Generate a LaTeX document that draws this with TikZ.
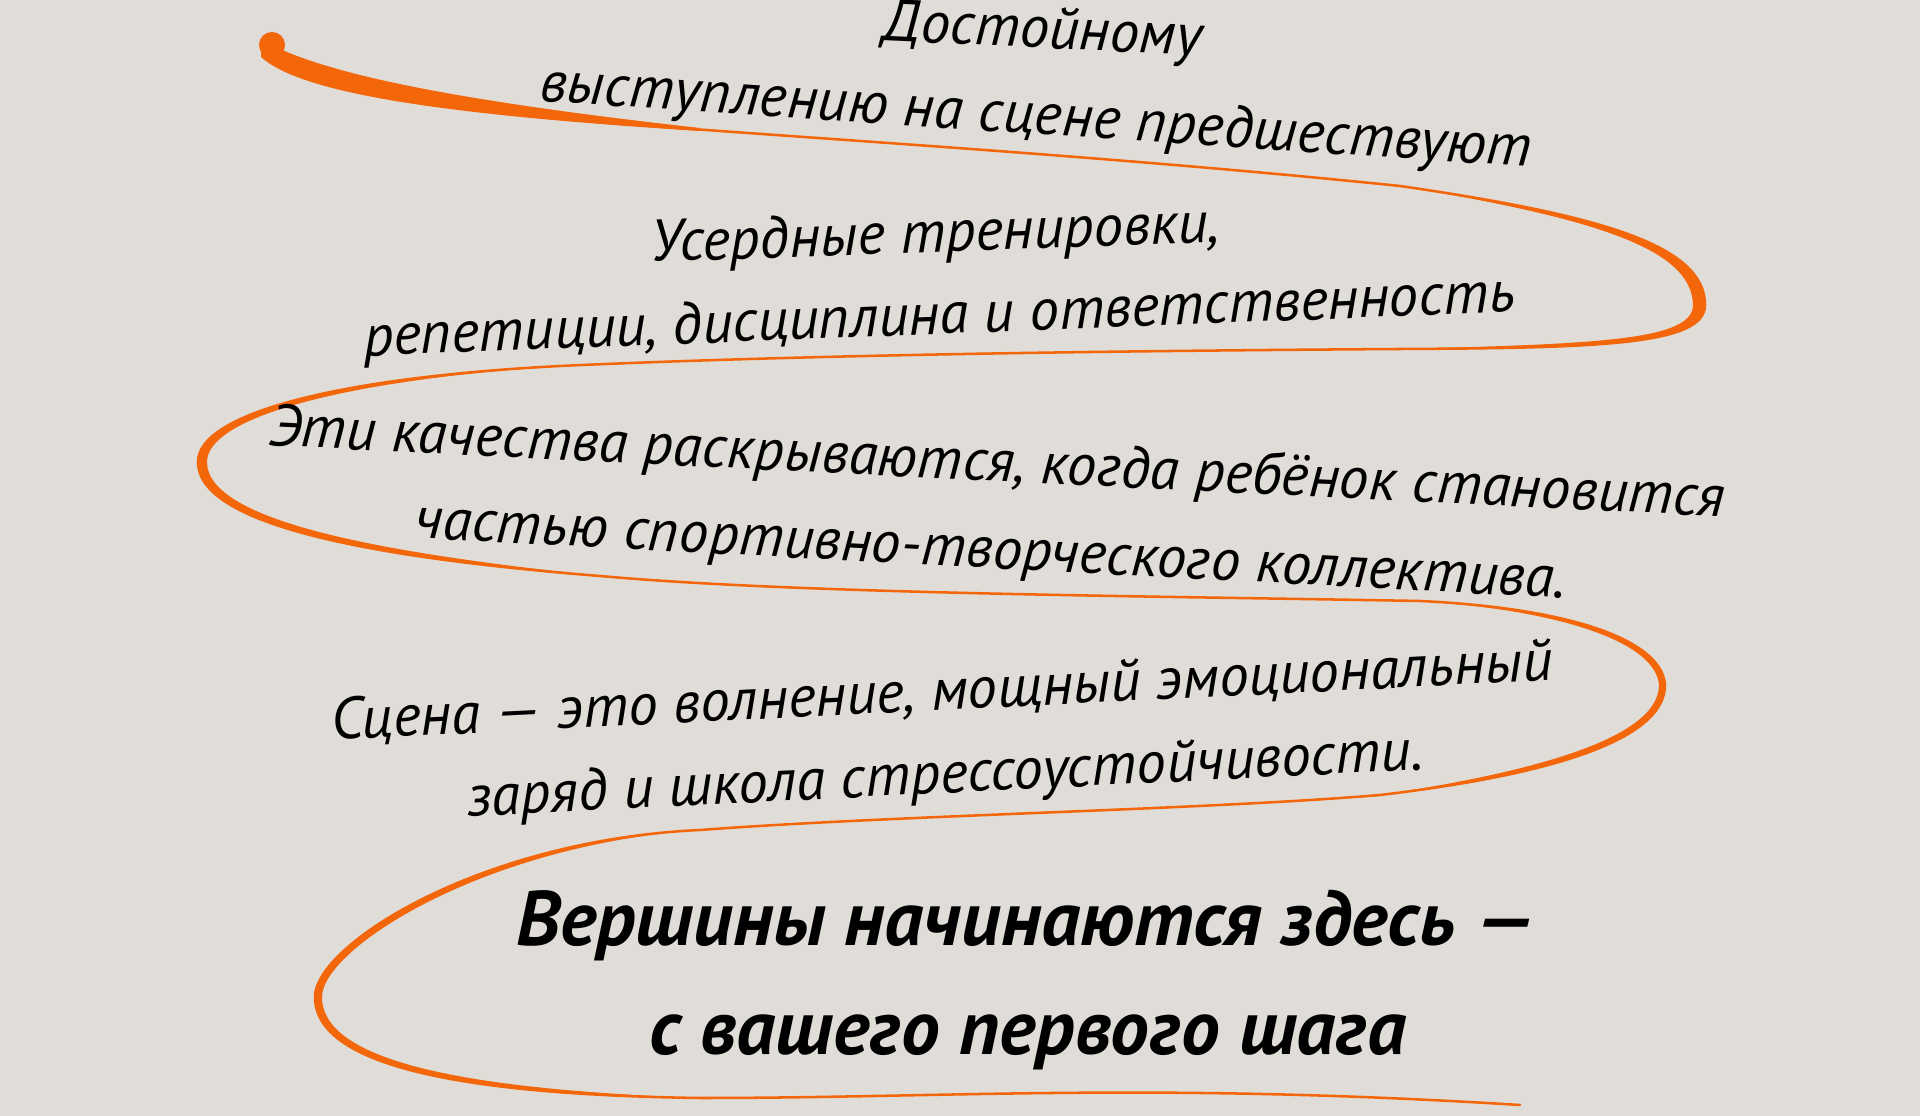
\documentclass[tikz,border=0pt]{standalone}
\usepackage{fontspec}
\setmainfont{PT Sans}
\usepackage{tikz}
\usetikzlibrary{calc,positioning}

\definecolor{bgbeige}{HTML}{E0DCD8}
\definecolor{swirl}{HTML}{F3660A}

\tikzset{
  phrase/.style={font=\itshape\fontsize{16.8}{20}\selectfont, anchor=base, inner sep=0pt},
  motto/.style={font=\bfseries\itshape\fontsize{22}{26}\selectfont, anchor=base, inner sep=0pt},
  ribbon/.style={draw=swirl, line width=0.72pt, line cap=round, line join=round},
}

\begin{document}
\begin{tikzpicture}[x=0.01cm,y=-0.01cm]
	\fill[bgbeige] (0,0) rectangle (1920,1116);
	\useasboundingbox (0,0) rectangle (1920,1116);
	% centre line of the ribbon
	\draw[ribbon] (272,47) .. controls (310,78) and (430,105) .. (600,122)
		.. controls (800,138) and (1100,155) .. (1400,186)
		.. controls (1600,215) and (1705,245) .. (1705,305)
		.. controls (1705,345) and (1600,348) .. (1400,349)
		.. controls (1100,351) and (800,355) .. (560,366)
		.. controls (330,378) and (198,415) .. (198,462)
		.. controls (198,530) and (400,560) .. (600,576)
		.. controls (800,594) and (1150,596) .. (1420,601)
		.. controls (1570,608) and (1662,640) .. (1665,685)
		.. controls (1665,740) and (1550,775) .. (1380,795)
		.. controls (1200,810) and (900,815) .. (700,830)
		.. controls (480,840) and (315,945) .. (315,997)
		.. controls (315,1070) and (480,1095) .. (700,1098)
		.. controls (950,1098) and (1150,1082) .. (1520,1105);
	% brush start
	\fill[swirl] (272,45) circle (0.13cm);
	\fill[swirl] (262,40) .. controls (315,70) and (430,98) .. (700,128)
		-- (700,131) .. controls (430,114) and (300,92) .. (261,57) -- cycle;
	% thicker turns
	\fill[swirl] (1400,186) .. controls (1600,215) and (1705,245) .. (1705,305)
		.. controls (1705,345) and (1600,348) .. (1400,349)
		.. controls (1600,344) and (1693,340) .. (1693,305)
		.. controls (1692,250) and (1600,219) .. (1400,186) -- cycle;
	\fill[swirl] (560,366) .. controls (330,378) and (198,415) .. (198,462)
		.. controls (198,530) and (400,560) .. (600,576)
		.. controls (400,555) and (207,524) .. (207,462)
		.. controls (207,419) and (335,381) .. (560,366) -- cycle;
	\fill[swirl] (1420,601) .. controls (1570,608) and (1662,640) .. (1665,685)
		.. controls (1665,740) and (1550,775) .. (1380,795)
		.. controls (1548,770) and (1659,735) .. (1659,685)
		.. controls (1656,644) and (1568,611) .. (1420,601) -- cycle;
	\fill[swirl] (700,830) .. controls (480,840) and (315,945) .. (315,997)
		.. controls (315,1070) and (480,1095) .. (700,1098)
		.. controls (482,1090) and (322,1065) .. (322,997)
		.. controls (322,949) and (483,845) .. (700,830) -- cycle;
	% texts
	\node[phrase, rotate=-2.6] (dost) at (1042,48) {Достойному};
	\node[phrase, rotate=-3.8] (vyst) at (1035,134) {выступлению на сцене предшествуют};
	\node[phrase, rotate=2] (userd) at (936,252) {Усердные тренировки,};
	\node[phrase, rotate=2.2] (repet) at (940,334) {репетиции, дисциплина и ответственность};
	\node[phrase, rotate=-2.8] (kach) at (996,481) {Эти качества раскрываются, когда ребёнок становится};
	\node[phrase, rotate=-3] (chast) at (990,568) {частью спортивно-творческого коллектива.};
	\node[phrase, rotate=2.8] (scena) at (943,710) {Сцена — это волнение, мощный эмоциональный};
	\node[phrase, rotate=2.8] (zaryad) at (946,793) {заряд и школа стрессоустойчивости.};
	\node[motto] (versh) at (1026,946) {Вершины начинаются здесь —};
	\node[motto] (shag) at (1028,1055) {с вашего первого шага};
\end{tikzpicture}
\end{document}
